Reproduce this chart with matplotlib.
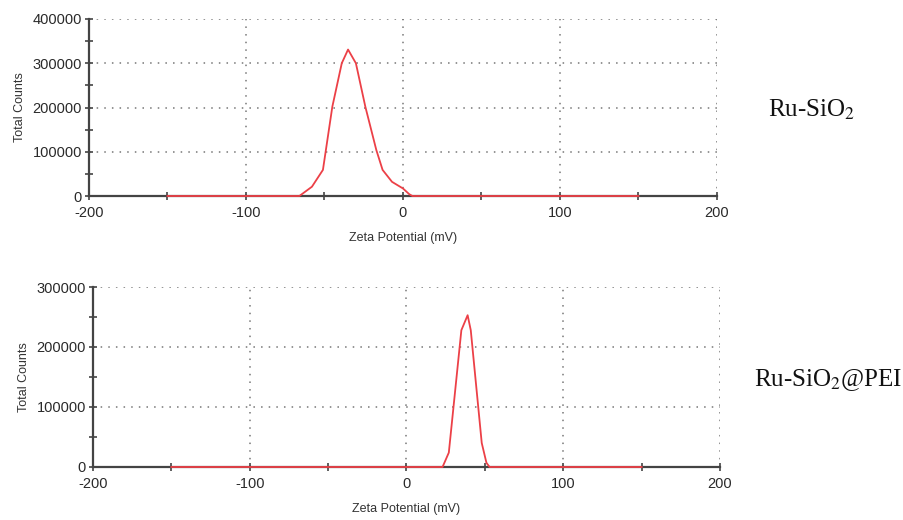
import matplotlib
matplotlib.use('Agg')
import numpy as np
import matplotlib.pyplot as plt
from matplotlib.ticker import MultipleLocator

# Ru-SiO2 trace (mV, counts)
zeta_a = [-150, -66, -58, -51, -45, -39, -35, -30, -24, -17, -13, -7, 0, 4, 6, 150]
counts_a = [0, 0, 21000, 59000, 202000, 300000, 331000, 300000, 202000, 104000, 59000, 32000, 17000, 4000, 0, 0]

# Ru-SiO2@PEI trace
zeta_b = [-150, 23, 27, 35, 39, 41, 48, 51, 53, 150]
counts_b = [0, 0, 24000, 228000, 253000, 228000, 40000, 7000, 0, 0]

labels = ['Ru-SiO$_2$', 'Ru-SiO$_2$@PEI']

plt.rcParams['font.family'] = ['Liberation Sans', 'DejaVu Sans']
plt.rcParams['mathtext.fontset'] = 'stix'
plt.rcParams['axes.unicode_minus'] = False

fig = plt.figure(figsize=(9.04, 5.20), dpi=100)
ax1 = fig.add_axes([89/904, 1-196/520, 628/904, 177/520])
ax2 = fig.add_axes([93/904, 1-467/520, 627/904, 180/520])

def style(ax, ymax, ystep):
    ax.set_xlim(-200, 200)
    ax.set_ylim(0, ymax)
    ax.xaxis.set_major_locator(MultipleLocator(100))
    ax.xaxis.set_minor_locator(MultipleLocator(50))
    ax.yaxis.set_major_locator(MultipleLocator(ystep))
    ax.yaxis.set_minor_locator(MultipleLocator(ystep/2))
    ax.grid(True, which='major', linestyle=(0, (1, 4)), color='#777777', linewidth=1.1)
    for s in ['top', 'right']:
        ax.spines[s].set_visible(False)
    for s in ['left', 'bottom']:
        ax.spines[s].set_color('#444444')
        ax.spines[s].set_linewidth(1.6)
    ax.tick_params(which='both', direction='inout', length=6, width=1.2, color='#444444',
                   labelsize=10.5, labelcolor='#2a2a2a')
    ax.tick_params(axis='x', which='major', pad=4)
    ax.tick_params(axis='y', which='major', pad=2)
    ax.set_xlabel('Zeta Potential (mV)', fontsize=9, color='#333333', labelpad=9)
    ax.set_ylabel('Total Counts', fontsize=9, color='#333333')
    ax.yaxis.set_label_coords(-0.1, 0.5)
    ax.ticklabel_format(style='plain', axis='y')

style(ax1, 400000, 100000)
style(ax2, 300000, 100000)

ax1.plot(zeta_a, counts_a, color='#ec4047', linewidth=1.3, clip_on=False, zorder=3)
ax2.plot(zeta_b, counts_b, color='#ec4047', linewidth=1.3, clip_on=False, zorder=3)

fig.text(812/904, 1-110/520, labels[0], fontsize=18, family='Liberation Serif',
         ha='center', va='center', color='#111111')
fig.text(828/904, 1-380/520, labels[1], fontsize=18, family='Liberation Serif',
         ha='center', va='center', color='#111111')

fig.savefig('out.png', dpi=100)
